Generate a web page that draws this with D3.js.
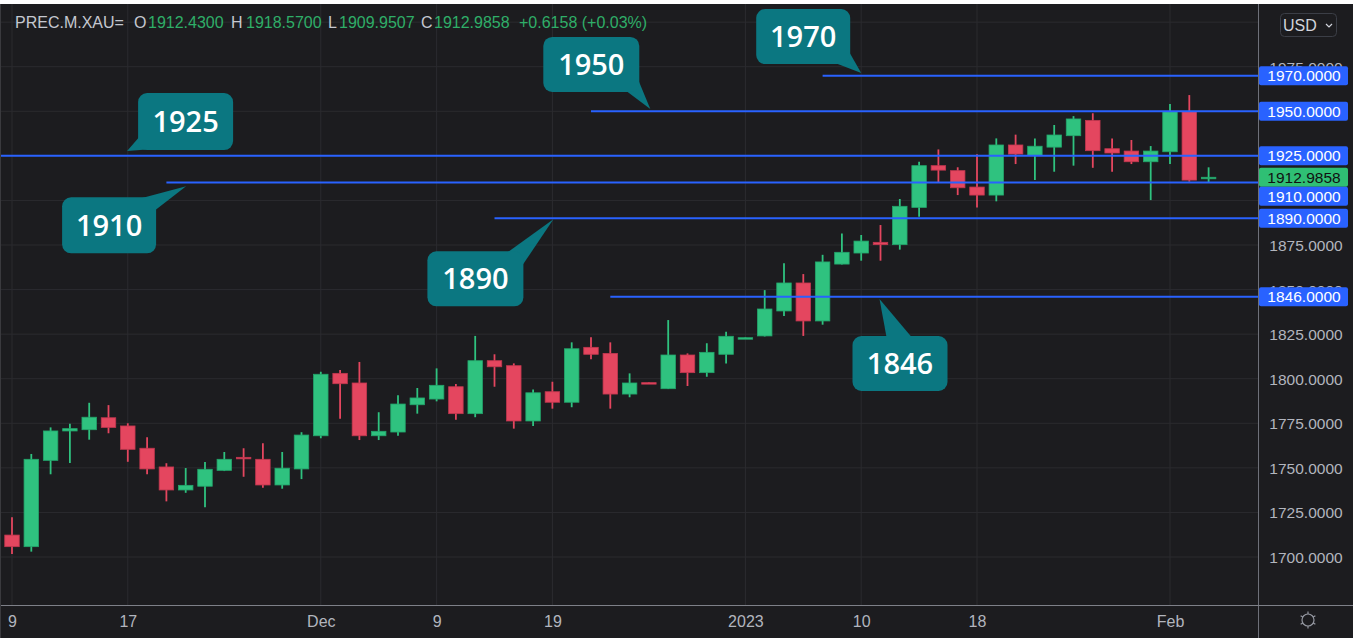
<!DOCTYPE html>
<html><head><meta charset="utf-8">
<script src="https://cdn.jsdelivr.net/npm/d3@7/dist/d3.min.js"></script>
<style>html,body{margin:0;padding:0;background:#fff;overflow:hidden}svg{display:block}</style>
</head><body><svg id="c" width="1367" height="641"></svg>
<script>
// ---------- DATA ----------
const dates = ["2022-11-09","2022-11-10","2022-11-11","2022-11-14","2022-11-15","2022-11-16","2022-11-17","2022-11-18","2022-11-21","2022-11-22","2022-11-23","2022-11-24","2022-11-25","2022-11-28","2022-11-29","2022-11-30","2022-12-01","2022-12-02","2022-12-05","2022-12-06","2022-12-07","2022-12-08","2022-12-09","2022-12-12","2022-12-13","2022-12-14","2022-12-15","2022-12-16","2022-12-19","2022-12-20","2022-12-21","2022-12-22","2022-12-23","2022-12-26","2022-12-27","2022-12-28","2022-12-29","2022-12-30","2023-01-02","2023-01-03","2023-01-04","2023-01-05","2023-01-06","2023-01-09","2023-01-10","2023-01-11","2023-01-12","2023-01-13","2023-01-16","2023-01-17","2023-01-18","2023-01-19","2023-01-20","2023-01-23","2023-01-24","2023-01-25","2023-01-26","2023-01-27","2023-01-30","2023-01-31","2023-02-01","2023-02-02","2023-02-03"];
const openP  = [1712.3,1705.8,1754.2,1770.7,1771.4,1778.1,1773.5,1761.0,1750.5,1737.6,1739.7,1748.6,1755.9,1754.8,1740.4,1749.4,1768.0,1803.0,1797.6,1768.0,1770.1,1785.4,1788.6,1795.5,1780.4,1810.1,1807.3,1776.3,1792.7,1786.8,1817.6,1814.2,1791.4,1797.8,1794.4,1813.3,1803.4,1813.7,1822.8,1824.0,1838.0,1853.7,1832.4,1864.3,1870.5,1876.5,1875.2,1896.1,1919.5,1916.7,1907.5,1903.0,1931.1,1925.3,1929.9,1936.3,1944.9,1929.0,1927.7,1921.7,1927.3,1949.8,1912.43];
const highP  = [1722.3,1757.8,1772.7,1774.8,1786.5,1785.2,1775.0,1767.1,1752.6,1749.9,1753.3,1758.9,1761.0,1763.8,1758.9,1770.0,1803.9,1804.9,1809.4,1781.2,1790.7,1794.8,1805.8,1797.0,1824.0,1813.7,1808.6,1794.0,1798.3,1820.4,1823.2,1820.4,1803.0,1798.0,1832.9,1814.2,1819.9,1826.4,1823.2,1849.7,1864.7,1858.7,1869.5,1881.5,1880.6,1886.2,1900.8,1921.7,1928.6,1918.6,1925.9,1934.8,1936.9,1934.8,1942.3,1947.3,1948.9,1934.8,1933.9,1930.5,1954.1,1959.1,1918.57];
const lowP   = [1701.7,1703.0,1746.4,1752.7,1765.8,1769.4,1753.4,1746.4,1731.2,1736.0,1727.9,1748.2,1745.0,1738.9,1738.3,1743.7,1766.6,1777.6,1765.6,1765.6,1768.0,1780.4,1787.3,1777.0,1778.4,1795.5,1772.0,1773.5,1783.2,1784.0,1810.9,1783.2,1789.6,1797.3,1794.2,1795.9,1801.1,1808.6,1822.6,1823.7,1835.2,1824.0,1830.3,1864.0,1866.2,1866.2,1872.4,1890.9,1909.9,1903.0,1896.1,1899.5,1920.4,1911.4,1916.1,1919.5,1918.3,1916.1,1920.4,1900.2,1920.4,1910.5,1909.9507];
const closeP = [1705.8,1754.8,1770.7,1772.0,1778.4,1772.7,1760.4,1749.4,1737.6,1740.2,1749.2,1754.8,1755.4,1740.4,1749.8,1768.4,1802.5,1797.2,1768.0,1770.5,1785.8,1789.2,1796.3,1780.4,1810.1,1806.7,1776.3,1792.1,1786.8,1816.8,1813.7,1791.4,1797.6,1797.5,1813.3,1803.4,1814.8,1823.8,1823.0,1839.1,1853.7,1832.4,1865.5,1870.9,1877.2,1875.2,1896.7,1919.5,1917.0,1907.1,1903.0,1931.1,1926.0,1930.4,1936.7,1945.7,1927.9,1926.6,1921.7,1927.7,1949.8,1911.4,1912.9858];

// price-axis labels visible in the reference (others are hidden behind level labels)
const priceTicks = [1700,1725,1750,1775,1800,1825,1850,1875,1975];
const gridPrices = [1700,1725,1750,1775,1800,1825,1850,1875,1900,1925,1950,1975,2000];
const xTickDates  = ["2022-11-09","2022-11-17","2022-12-01","2022-12-09","2022-12-19","2023-01-02","2023-01-10","2023-01-18","2023-02-01"];
const xTickLabels = ["9","17","Dec","9","19","2023","10","18","Feb"];

const levels      = [1970,1950,1925,1910,1890,1846];
const levelStarts = ["2023-01-06","2022-12-21",null,"2022-11-21","2022-12-14","2022-12-22"];
const calloutTexts = ["1970","1950","1925","1910","1890","1846"];
const calloutTipDates = ["2023-01-10","2022-12-26","2022-11-17","2022-11-22","2022-12-19","2023-01-11"];

const symbol = "PREC.M.XAU=";
const lastChange = "+0.6158 (+0.03%)";

// ---------- LAYOUT ----------
const plotL = 0, plotR = 1258, plotT = 4, plotB = 605, frameR = 1353, frameB = 638;
const UP = "#2fc27f", DOWN = "#e4465f", UPS = "#23a56b", DOWNS = "#c2374f";
const BLUE = "#2962ff", TEAL = "#0b7781";
const FONT = "'Liberation Sans',Arial,sans-serif";
const svg = d3.select("#c");

svg.append("rect").attr("x",0).attr("y",plotT).attr("width",frameR).attr("height",frameB-plotT).attr("fill","#1c1c1f");

const x = d3.scalePoint().domain(dates).range([12, 1208.6]);
const y = d3.scaleLinear().domain([1700,1875]).range([557,245]);
const bodyW = x.step()*0.75;

svg.append("defs").append("clipPath").attr("id","plot").append("rect")
  .attr("x",plotL).attr("y",plotT).attr("width",plotR-plotL).attr("height",plotB-plotT);
const plot = svg.append("g").attr("clip-path","url(#plot)");

// grid
plot.selectAll(".hg").data(gridPrices).join("line")
  .attr("x1",plotL).attr("x2",plotR).attr("y1",d=>y(d)).attr("y2",d=>y(d))
  .attr("stroke","#2b2b2f").attr("stroke-width",1);
plot.selectAll(".vg").data(xTickDates).join("line")
  .attr("x1",d=>x(d)).attr("x2",d=>x(d)).attr("y1",plotT).attr("y2",plotB)
  .attr("stroke","#2b2b2f").attr("stroke-width",1);

// candles
const idx = d3.range(dates.length);
const isUp = i => closeP[i] >= openP[i];
plot.selectAll(".wick").data(idx).join("line")
  .attr("x1",i=>x(dates[i])).attr("x2",i=>x(dates[i]))
  .attr("y1",i=>y(highP[i])).attr("y2",i=>y(lowP[i]))
  .attr("stroke",i=>isUp(i)?UP:DOWN).attr("stroke-width",1.8);
plot.selectAll(".body").data(idx).join("rect")
  .attr("x",i=>x(dates[i])-bodyW/2).attr("width",bodyW)
  .attr("y",i=>y(Math.max(openP[i],closeP[i])))
  .attr("height",i=>Math.max(1.5, Math.abs(y(openP[i])-y(closeP[i]))))
  .attr("fill",i=>isUp(i)?UP:DOWN)
  .attr("stroke",i=>isUp(i)?UPS:DOWNS).attr("stroke-width",0.8);

// level lines
plot.selectAll(".lvl").data(levels).join("line")
  .attr("x1",(d,i)=>levelStarts[i]?x(levelStarts[i]):plotL).attr("x2",plotR)
  .attr("y1",d=>y(d)).attr("y2",d=>y(d))
  .attr("stroke",BLUE).attr("stroke-width",2);

// callouts (box offsets relative to tip, px)
const tipDY = [-2.6,-2.3,-4.8,3.7,1.1,2.3];
const tipDX = [0,1.4,-0.7,0.4,1,-1];
const boxOff = [[-105,-64,94,55],[-107,-72,96,55],[11,-58,95,57],[-124,11,94,56],[-126,32,96,55],[-27,37,95,55]];
const baseOff = [[[-26,-10],[-12,-21]],[[-24,-18],[-12,-29]],[[13,-15],[26,-2]],[[-45,12],[-31,24]],[[-46,33],[-31,46]],[[7,38],[32,38]]];
const cg = plot.append("g");
levels.forEach((lv,i)=>{
  const tx = x(calloutTipDates[i]) + tipDX[i], ty = y(lv) + tipDY[i];
  const b = boxOff[i], bs = baseOff[i];
  const g = cg.append("g");
  g.append("path").attr("d",`M${tx},${ty}L${tx+bs[0][0]},${ty+bs[0][1]}L${tx+bs[1][0]},${ty+bs[1][1]}Z`).attr("fill",TEAL);
  g.append("rect").attr("x",tx+b[0]).attr("y",ty+b[1]).attr("width",b[2]).attr("height",b[3]).attr("rx",9).attr("fill",TEAL);
  g.append("text").attr("x",tx+b[0]+b[2]/2).attr("y",ty+b[1]+b[3]/2+10.5)
    .attr("text-anchor","middle").attr("fill","#ffffff")
    .attr("font-family","'Open Sans',sans-serif").attr("font-weight",600).attr("font-size",29)
    .text(calloutTexts[i]);
});

// separators
svg.append("line").attr("x1",plotR+0.5).attr("x2",plotR+0.5).attr("y1",plotT).attr("y2",frameB).attr("stroke","#6e7079").attr("stroke-width",1);
svg.append("line").attr("x1",0).attr("x2",frameR).attr("y1",plotB+0.5).attr("y2",plotB+0.5).attr("stroke","#7e8088").attr("stroke-width",1.2);
svg.append("line").attr("x1",0.5).attr("x2",0.5).attr("y1",plotT).attr("y2",frameB).attr("stroke","#3a3a3e");

// price axis
const yAxis = d3.axisRight(y).tickValues(priceTicks).tickSize(0).tickPadding(0).tickFormat(d=>d.toFixed(4));
const ya = svg.append("g").attr("transform",`translate(${plotR},0)`).call(yAxis);
ya.select(".domain").remove();
ya.selectAll("text").attr("x",48).attr("text-anchor","middle").attr("dy","0.35em")
  .attr("fill","#b2b5be").attr("font-family",FONT).attr("font-size",15.5);

// price labels (level boxes + last price)
const lastPrice = closeP[closeP.length-1];
let labels = levels.map(v=>({v, fill:BLUE, color:"#ffffff", text:v.toFixed(4)}));
labels.push({v:lastPrice, fill:"#2fbf74", color:"#111111", text:lastPrice.toFixed(4)});
labels.forEach(l=>l.cy=y(l.v));
labels.sort((a,b)=>a.cy-b.cy);
const LH = 19;
for(let i=1;i<labels.length;i++){ if(labels[i].cy < labels[i-1].cy+LH) labels[i].cy = labels[i-1].cy+LH; }
const lg = svg.append("g");
labels.forEach(l=>{
  lg.append("rect").attr("x",plotR+1).attr("y",l.cy-LH/2).attr("width",89).attr("height",LH).attr("rx",2).attr("fill",l.fill);
  lg.append("text").attr("x",plotR+46).attr("y",l.cy).attr("dy","0.36em").attr("text-anchor","middle")
    .attr("fill",l.color).attr("font-family",FONT).attr("font-size",15.5).text(l.text);
});

// time axis
const xAxis = d3.axisBottom(x).tickValues(xTickDates).tickSize(0).tickPadding(0)
  .tickFormat(d=>xTickLabels[xTickDates.indexOf(d)]);
const xa = svg.append("g").attr("transform",`translate(0,${plotB})`).call(xAxis);
xa.select(".domain").remove();
xa.selectAll("text").attr("y",16).attr("dy","0.35em").attr("fill","#b2b5be")
  .attr("font-family",FONT).attr("font-size",16);

// header
const hdr = svg.append("text").attr("y",28).attr("font-family",FONT).attr("font-size",16);
const G = "#2fae68", T = "#c5c8d0";
const parts = [[15,symbol,T],[134,"O",T],[148,openP[62].toFixed(4),G],[231,"H",T],[246,highP[62].toFixed(4),G],[328,"L",T],[339,lowP[62].toFixed(4),G],[421,"C",T],[434,closeP[62].toFixed(4),G],[519,lastChange,G]];
parts.forEach(p=>hdr.append("tspan").attr("x",p[0]).attr("fill",p[2]).text(p[1]));

// USD button
svg.append("rect").attr("x",1280.5).attr("y",13.5).attr("width",56).attr("height",23).attr("rx",4)
  .attr("fill","none").attr("stroke","#3b3e46");
svg.append("text").attr("x",1283).attr("y",30.5).attr("fill","#d1d4dc")
  .attr("font-family",FONT).attr("font-size",16).text("USD");
svg.append("path").attr("d","M1326,24L1329,27L1332,24").attr("fill","none").attr("stroke","#d1d4dc").attr("stroke-width",1.2);

// gear icon
const gx=1308, gy=620;
const gear = svg.append("g").attr("stroke","#9598a1").attr("fill","none").attr("stroke-width",1.2);
gear.append("circle").attr("cx",gx).attr("cy",gy).attr("r",6);
d3.range(6).forEach(k=>{const a=k*Math.PI/3+Math.PI/6;
  gear.append("line").attr("x1",gx+6*Math.cos(a)).attr("y1",gy+6*Math.sin(a)).attr("x2",gx+8.5*Math.cos(a)).attr("y2",gy+8.5*Math.sin(a));});
</script></body></html>
